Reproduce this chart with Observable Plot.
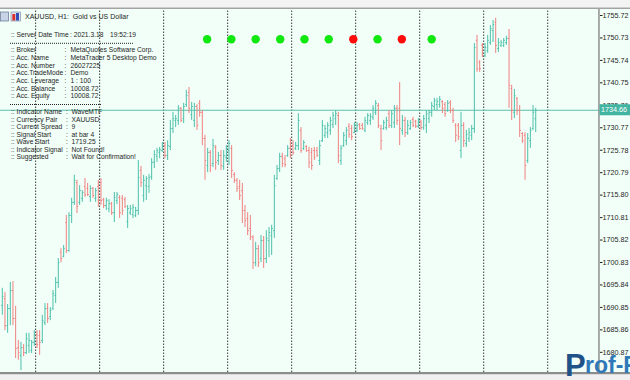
<!DOCTYPE html>
<html><head><meta charset="utf-8">
<script src="https://cdn.jsdelivr.net/npm/d3@7"></script>
<script src="https://cdn.jsdelivr.net/npm/@observablehq/plot@0.6"></script>
<style>
html,body{margin:0;padding:0;background:#fff;}
#chart{position:relative;width:630px;height:380px;overflow:hidden;}
#chart svg{position:absolute;left:0;top:0;}
</style></head><body><div id="chart"></div>
<script>
// ---- data ----
const opens = [1691.3,1692.8,1686.8,1690.6,1694.6,1688.4,1681.9,1680.2,1681.9,1680.8,1682.4,1681.3,1683.1,1684.8,1684.6,1683.5,1687.5,1690.6,1688.8,1690.6,1693.5,1696.4,1703.1,1702.2,1709.7,1703.5,1711.3,1714.2,1718.6,1714.2,1715.1,1717.7,1717.3,1715.5,1717.3,1715.1,1717.7,1718.6,1714.8,1713.5,1712.8,1713.9,1711.9,1714.6,1715.3,1715.1,1714.8,1709.9,1711.9,1711.5,1711.3,1712.4,
1721.3,1715.7,1717.9,1717.7,1719.9,1723.1,1724.4,1725.3,1725.7,1726.8,1724.6,1726.6,1730.6,1732.4,1732.4,1735.1,1732.8,1735.9,1738.6,1733.7,1732.4,1735.5,1736.2,1734.2,1728.4,1722.4,1725.3,1722.8,1726.4,1723.5,1724.6,1722.2,1724.2,1725.7,1726.2,1720.4,1719.1,1717.7,1716.8,1712.4,1710.6,1708.4,1706.4,1700.8,1703.9,1701.7,1705.7,1701.7,1705.7,1706.8,1707.9,
1719.5,1721.7,1724.4,1723.9,1724.6,1726.2,1726.8,1726.2,1726.8,1730.2,1726.2,1726.6,1725.7,1725.3,1725.7,1725.7,1723.5,1727.9,1729.1,1729.7,1730.2,1731.5,1732.8,1733.5,1723.5,1726.8,1727.9,1731.1,1730.6,1729.7,1730.2,1731.5,1731.3,1730.2,1731.9,1732.4,1733.1,1734.2,1735.7,1730.6,1730.6,1730.8,1733.9,1731.3,1731.9,1735.1,1735.1,1730.2,1732.4,1729.7,
1730.6,1732.6,1732.2,1731.1,1732.2,1730.8,1731.3,1732.8,1734.2,1735.5,1735.9,1735.9,1736.6,1735.9,1734.6,1736.4,1734.6,1731.3,1731.3,1725.7,1731.3,1727.3,1728.4,1729.1,1730.6,1750.2,1745.3,1749.1,1746.8,1747.9,1749.7,1752.4,1754.2,1748.4,1749.1,1749.1,1749.7,1750.6,1739.5,1734.2,1737.3,1734.6,1729.5,1729.1,1723.5,1727.9,1730.6,1732.8];
const highs = [1695.1,1694.2,1691.5,1696.4,1696.6,1691.1,1683.5,1683.1,1682.6,1685.1,1685.1,1683.5,1685.7,1685.7,1685.7,1689.1,1691.7,1691.7,1690.8,1694.6,1697.5,1701.7,1703.9,1704.6,1711.3,1711.9,1715.1,1720.2,1719.1,1717.9,1716.8,1719.5,1718.4,1717.9,1717.5,1717.3,1719.1,1719.5,1715.1,1715.1,1714.8,1714.2,1716.4,1716.4,1715.7,1715.7,1715.3,1713.5,1713.5,1713.7,1713.1,1723.5,
1722.2,1720.2,1719.9,1720.4,1723.9,1725.7,1726.2,1726.4,1727.5,1727.5,1727.9,1732.4,1734.2,1733.5,1735.7,1735.3,1736.2,1739.1,1739.7,1736.4,1736.2,1735.9,1736.8,1734.6,1729.1,1726.2,1725.7,1728.2,1726.8,1725.3,1725.7,1725.7,1726.8,1727.9,1726.8,1720.8,1719.5,1719.1,1718.4,1713.5,1711.9,1711.3,1706.8,1705.3,1704.6,1706.8,1706.6,1707.9,1708.6,1709.1,1720.2,
1722.4,1725.1,1725.1,1724.6,1726.8,1728.4,1727.9,1727.5,1733.9,1730.8,1727.9,1726.8,1726.4,1726.2,1726.4,1726.4,1727.9,1732.4,1731.3,1731.9,1733.1,1734.2,1734.6,1734.2,1726.8,1729.7,1730.8,1731.7,1731.3,1731.9,1731.9,1731.7,1731.7,1733.1,1733.9,1733.9,1735.7,1736.8,1736.2,1731.3,1732.4,1733.1,1734.6,1734.6,1735.7,1735.7,1740.8,1733.5,1733.1,1732.4,
1732.4,1733.1,1732.4,1732.8,1732.4,1733.5,1734.6,1734.6,1736.4,1737.3,1737.3,1737.7,1736.8,1736.4,1736.8,1736.8,1735.1,1731.7,1731.7,1734.2,1731.9,1730.2,1730.6,1731.3,1749.5,1751.3,1745.7,1749.5,1749.5,1751.3,1753.5,1754.6,1755.1,1750.6,1750.2,1750.6,1751.1,1752.6,1740.2,1739.3,1737.5,1735.7,1729.7,1729.7,1729.5,1730.8,1735.7,1735.1];
const lows = [1689.1,1685.7,1685.1,1686.8,1686.8,1679.5,1679.1,1676.8,1679.9,1680.4,1680.6,1680.6,1682.2,1681.7,1680.2,1682.8,1686.8,1687.3,1687.9,1690.2,1691.7,1695.1,1700.8,1701.9,1702.8,1703.1,1709.5,1713.5,1711.7,1713.5,1714.2,1715.3,1715.5,1714.2,1715.1,1714.2,1713.1,1713.5,1712.8,1712.4,1711.9,1711.3,1709.7,1713.7,1710.6,1711.3,1712.8,1708.4,1711.3,1710.6,1710.8,1711.3,
1717.5,1714.2,1714.6,1716.2,1719.1,1721.7,1723.1,1723.9,1725.3,1723.9,1723.5,1725.7,1729.5,1730.8,1731.3,1731.9,1731.7,1735.3,1733.9,1732.4,1730.8,1730.2,1733.1,1726.8,1719.1,1720.8,1720.8,1721.9,1721.3,1722.4,1721.3,1721.3,1723.1,1722.4,1719.5,1718.4,1716.4,1714.6,1709.5,1708.6,1706.8,1705.7,1699.3,1699.9,1699.7,1700.8,1699.5,1700.6,1701.9,1702.4,1706.2,
1719.1,1720.8,1721.9,1721.9,1724.2,1723.9,1724.6,1725.7,1725.7,1725.1,1725.7,1725.3,1721.7,1721.3,1723.5,1724.2,1722.4,1727.5,1728.4,1728.4,1729.1,1730.6,1731.3,1722.8,1722.4,1726.4,1726.8,1728.4,1727.9,1729.5,1729.7,1730.2,1730.2,1729.7,1731.3,1731.3,1732.4,1733.5,1730.6,1725.7,1730.2,1730.2,1730.6,1730.6,1730.6,1731.3,1726.8,1729.1,1728.6,1729.1,
1730.2,1730.8,1730.6,1730.6,1730.2,1730.2,1729.5,1731.7,1733.1,1734.6,1734.6,1735.1,1733.9,1733.1,1734.2,1733.9,1731.7,1727.5,1727.9,1723.9,1726.4,1726.4,1727.5,1727.9,1729.5,1743.1,1743.1,1746.4,1746.4,1747.3,1749.1,1749.7,1747.3,1747.5,1748.6,1748.6,1749.1,1735.1,1732.4,1732.8,1733.5,1728.6,1727.3,1719.1,1722.8,1726.2,1730.2,1729.7];
const closes = [1693.3,1686.8,1690.6,1694.6,1688.4,1681.7,1680.8,1681.9,1680.8,1683.9,1683.5,1683.1,1684.8,1682.6,1683.1,1687.9,1690.6,1688.4,1690.2,1693.9,1696.4,1700.8,1701.7,1703.9,1703.5,1711.3,1714.2,1719.1,1713.3,1716.8,1716.4,1715.9,1715.9,1717.3,1715.7,1716.8,1714.6,1714.6,1713.5,1714.6,1713.9,1711.9,1715.3,1715.9,1711.9,1712.4,1713.3,1712.8,1712.8,1713.1,1712.4,1719.7,
1718.6,1719.1,1719.5,1719.7,1723.1,1724.8,1725.7,1725.9,1726.8,1724.6,1726.8,1730.6,1732.8,1732.8,1735.1,1732.4,1735.5,1737.9,1735.1,1735.5,1735.5,1731.3,1734.2,1728.4,1723.5,1725.3,1722.4,1726.8,1723.1,1724.6,1722.4,1724.6,1726.2,1727.3,1721.3,1719.1,1717.3,1715.7,1712.4,1710.2,1707.9,1706.6,1700.8,1703.9,1700.8,1705.7,1701.7,1706.2,1707.5,1708.4,1717.9,
1721.7,1724.4,1722.8,1722.6,1726.2,1724.6,1725.3,1726.8,1732.4,1725.7,1727.5,1725.7,1723.1,1722.4,1724.2,1724.6,1726.8,1731.3,1730.6,1731.3,1732.4,1733.5,1733.9,1724.6,1726.2,1729.1,1730.2,1729.3,1728.8,1731.3,1731.3,1730.6,1730.6,1732.4,1733.5,1733.3,1735.1,1736.2,1731.3,1727.9,1731.9,1732.4,1731.3,1733.9,1735.1,1732.4,1730.6,1732.4,1729.7,1731.3,
1731.9,1731.3,1731.1,1732.4,1730.8,1732.8,1733.9,1734.2,1735.7,1736.8,1736.6,1737.1,1735.1,1733.9,1736.2,1734.6,1732.4,1729.1,1728.8,1731.3,1727.9,1729.3,1729.7,1730.6,1748.6,1743.9,1743.9,1746.8,1748.6,1750.2,1752.8,1753.7,1749.1,1749.7,1749.7,1750.2,1750.6,1740.2,1734.6,1737.9,1734.6,1730.2,1727.9,1722.4,1728.4,1730.2,1734.2,1734.6];
const priceTicks = [1755.72,1750.73,1745.74,1740.75,1735.76,1730.77,1725.78,1720.79,1715.80,1710.81,1705.82,1700.83,1695.84,1690.85,1685.86,1680.87];
const lastPrice = 1734.66;
const separatorBars = [12.5,36.5,60.5,84.5,108.5,132.5,156.5,180.5,204.5];
const signalBars = [76.8,85.9,95.0,104.2,113.3,122.4,131.6,140.7,149.8,161.0];
const signalKinds = ["buy","buy","buy","buy","buy","buy","sell","buy","sell","buy"];
const signalLevel = 1750.45;
const yDomain = [1676.39, 1757.05];
const xDomain = [-0.675, 223.92];

const titleText = "XAUUSD, H1:  Gold vs US Dollar";
const infoRows1 = [
  [":: Broker", "MetaQuotes Software Corp."],
  [":: Acc. Name", "MetaTrader 5 Desktop Demo"],
  [":: Acc. Number", "26027225"],
  [":: Acc.TradeMode", "Demo"],
  [":: Acc. Leverage", "1 : 100"],
  [":: Acc. Balance", "10008.72"],
  [":: Acc. Equity", "10008.72"]
];
const infoRows2 = [
  [":: Indicator Name", "WaveMTF"],
  [":: Currency Pair", "XAUUSD"],
  [":: Current Spread", "9"],
  [":: Signal Start", "at bar 4"],
  [":: Wave Start", "1719.25"],
  [":: Indicator Signal", "Not Found!"],
  [":: Suggested", "Wait for Confirmation!"]
];

// ---- build ----
const UP = "#4cc0ab", DOWN = "#ef8080";
const FONT = "'Liberation Sans', Arial, sans-serif";
const bars = opens.map((o, i) => ({i, o, h: highs[i], l: lows[i], c: closes[i], col: closes[i] >= o ? UP : DOWN}));
const signals = signalBars.map((b, k) => ({b, col: signalKinds[k] === "buy" ? "#10e810" : "#ff0a0a"}));

const plot = Plot.plot({
  width: 630, height: 380,
  marginTop: 9, marginBottom: 8, marginLeft: 0, marginRight: 31,
  style: {background: "transparent", fontFamily: FONT, fontSize: "7.2px", color: "#1e1e1e"},
  x: {domain: xDomain, axis: null},
  y: {domain: yDomain, axis: "right", ticks: priceTicks, tickFormat: d => d.toFixed(2), tickSize: 2.5, tickPadding: 0.5, label: null},
  color: {type: "identity"},
  marks: [
    Plot.ruleX(separatorBars, {x: d => d, y1: yDomain[0], y2: yDomain[1], stroke: "#3a3a3a", strokeWidth: 1, strokeDasharray: "1.5,1.5"}),
    Plot.ruleY([lastPrice], {stroke: "#5dbfae", strokeWidth: 1.1}),
    Plot.ruleX(bars, {x: "i", y1: "l", y2: "h", stroke: "col", strokeWidth: 1}),
    Plot.link(bars, {x1: d => d.i - 0.45, x2: "i", y1: "o", y2: "o", stroke: "col", strokeWidth: 1}),
    Plot.link(bars, {x1: "i", x2: d => d.i + 0.45, y1: "c", y2: "c", stroke: "col", strokeWidth: 1}),
    Plot.dot(signals, {x: "b", y: () => signalLevel, r: 4.2, fill: "col", stroke: "none"})
  ]
});
document.getElementById("chart").appendChild(plot);

const svg = d3.select(plot);
const ys = plot.scale("y");
// background & frame chrome
const bg = svg.insert("g", ":first-child");
bg.append("rect").attr("x", 0).attr("y", 0).attr("width", 630).attr("height", 380).attr("fill", "#ffffff");
bg.append("rect").attr("x", 0).attr("y", 0).attr("width", 630).attr("height", 7.5).attr("fill", "#f3f3f3");
bg.append("rect").attr("x", 0).attr("y", 9).attr("width", 630).attr("height", 363).attr("fill", "#f2fff8");
const fg = svg.append("g").attr("text-anchor", "start");
fg.append("rect").attr("x", 0).attr("y", 7.5).attr("width", 630).attr("height", 1.5).attr("fill", "#a3a3a3");
fg.append("rect").attr("x", 598.2).attr("y", 9).attr("width", 1.5).attr("height", 363).attr("fill", "#8f8f8f");
fg.append("rect").attr("x", 0).attr("y", 372).attr("width", 630).attr("height", 2.5).attr("fill", "#8c8c8c");
fg.append("rect").attr("x", 0).attr("y", 374.5).attr("width", 630).attr("height", 5.5).attr("fill", "#f0f0f0");

// price label box
const yp = ys.apply(lastPrice);
fg.append("rect").attr("x", 599.5).attr("y", yp - 5.5).attr("width", 30.5).attr("height", 11).attr("fill", "#42b5a2");
fg.append("text").attr("x", 601).attr("y", yp + 0.3).attr("dominant-baseline", "middle")
  .attr("font-family", FONT).attr("font-size", 7.2).attr("fill", "#ffffff").text(lastPrice.toFixed(2));

// title + icons
const t = svg.append("g").attr("font-family", FONT).attr("fill", "#1e1e1e").attr("text-anchor", "start");
t.append("rect").attr("x", 0.5).attr("y", 12).attr("width", 8).attr("height", 9).attr("fill", "#c9d3e6").attr("stroke", "#6f7f9c").attr("stroke-width", 0.8);
t.append("rect").attr("x", 11).attr("y", 12).attr("width", 9.5).attr("height", 9).attr("fill", "#dfe6f2").attr("stroke", "#6f7f9c").attr("stroke-width", 0.6);
t.append("rect").attr("x", 12.3).attr("y", 14).attr("width", 3).attr("height", 6.5).attr("fill", "#d93030");
t.append("rect").attr("x", 16).attr("y", 13).attr("width", 3).attr("height", 7.5).attr("fill", "#3050b8");
t.append("text").attr("x", 25).attr("y", 17).attr("dominant-baseline", "middle").attr("font-size", 7).text(titleText);

// info panel
const fs = 6.7;
t.append("text").attr("x", 11).attr("y", 35.3).attr("dominant-baseline", "middle").attr("font-size", fs).text(":: Server Date Time");
t.append("text").attr("x", 70).attr("y", 35.3).attr("dominant-baseline", "middle").attr("font-size", fs).text(": 2021.3.18");
t.append("text").attr("x", 110).attr("y", 35.3).attr("dominant-baseline", "middle").attr("font-size", fs).text("19:52:19");
t.append("line").attr("x1", 10).attr("x2", 134).attr("y1", 43.3).attr("y2", 43.3).attr("stroke", "#222").attr("stroke-width", 1).attr("stroke-dasharray", "1,1");
infoRows1.forEach((r, k) => {
  const y = 50.7 + k * 7.67;
  t.append("text").attr("x", 11).attr("y", y).attr("dominant-baseline", "middle").attr("font-size", fs).text(r[0]);
  t.append("text").attr("x", 64.5).attr("y", y).attr("dominant-baseline", "middle").attr("font-size", fs).text(":");
  t.append("text").attr("x", 70.5).attr("y", y).attr("dominant-baseline", "middle").attr("font-size", fs).text(r[1]);
});
t.append("line").attr("x1", 10).attr("x2", 101).attr("y1", 104.5).attr("y2", 104.5).attr("stroke", "#222").attr("stroke-width", 1).attr("stroke-dasharray", "1,1");
infoRows2.forEach((r, k) => {
  const y = 112.3 + k * 7.5;
  t.append("text").attr("x", 11).attr("y", y).attr("dominant-baseline", "middle").attr("font-size", fs).text(r[0]);
  t.append("text").attr("x", 66).attr("y", y).attr("dominant-baseline", "middle").attr("font-size", fs).text(":");
  t.append("text").attr("x", 71.5).attr("y", y).attr("dominant-baseline", "middle").attr("font-size", fs).text(r[1]);
});

// watermark logo
const logo = svg.append("g").attr("font-family", FONT).attr("font-weight", "bold").attr("text-anchor", "start");
logo.append("text").attr("x", 565).attr("y", 376).attr("font-size", 31).attr("fill", "#1f5288").text("P");
logo.append("text").attr("x", 585).attr("y", 373).attr("font-size", 23).attr("fill", "#2f78b8").text("rof-F");
</script></body></html>
